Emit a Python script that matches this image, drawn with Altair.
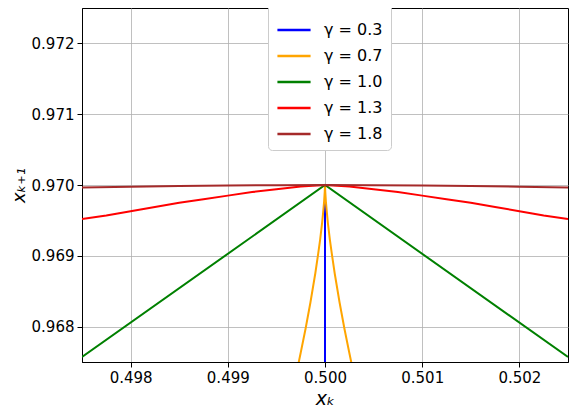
import altair as alt
import pandas as pd

labels = ["γ = 0.3", "γ = 0.7", "γ = 1.0", "γ = 1.3", "γ = 1.8"]
colors = ["#0000ff", "#ffa500", "#008000", "#ff0000", "#a52a2a"]

x_ticks = [0.498, 0.499, 0.500, 0.501, 0.502]
y_ticks = [0.968, 0.969, 0.970, 0.971, 0.972]

blue_x = [0.5, 0.5]
blue_y = [0.9670, 0.96977]

orange_x = [0.4997, 0.49975, 0.4998, 0.49985, 0.4999, 0.49993, 0.49995, 0.49997,
            0.49998, 0.49999, 0.499998, 0.5,
            0.500002, 0.50001, 0.50002, 0.50003, 0.50005, 0.50007, 0.5001,
            0.50015, 0.5002, 0.50025, 0.5003]
orange_y = [0.96730, 0.96763, 0.96797, 0.96834, 0.96875, 0.96903, 0.96923, 0.96946,
            0.96960, 0.96975, 0.96992, 0.97000,
            0.96992, 0.96975, 0.96960, 0.96946, 0.96923, 0.96903, 0.96875,
            0.96834, 0.96797, 0.96763, 0.96730]

green_x = [0.4975, 0.5, 0.5025]
green_y = [0.96757, 0.97000, 0.96757]

red_x = [0.4975, 0.49775, 0.498, 0.49825, 0.4985, 0.49875, 0.499, 0.49925, 0.4995,
         0.49975, 0.5, 0.50025, 0.5005, 0.50075, 0.501, 0.50125, 0.5015, 0.50175,
         0.502, 0.50225, 0.5025]
red_y = [0.96952, 0.96957, 0.96963, 0.96969, 0.96975, 0.96980, 0.96985, 0.96990,
         0.96994, 0.96998, 0.97000, 0.96998, 0.96994, 0.96990, 0.96985, 0.96980,
         0.96975, 0.96969, 0.96963, 0.96957, 0.96952]

brown_x = [0.4975, 0.498, 0.4985, 0.499, 0.4995, 0.5, 0.5005, 0.501, 0.5015, 0.502, 0.5025]
brown_y = [0.969965, 0.969977, 0.969986, 0.969993, 0.969998, 0.97,
           0.969998, 0.969993, 0.969986, 0.969977, 0.969965]

series = [(blue_x, blue_y), (orange_x, orange_y), (green_x, green_y),
          (red_x, red_y), (brown_x, brown_y)]

xscale = alt.Scale(domain=[0.4975, 0.5025], nice=False, zero=False)
yscale = alt.Scale(domain=[0.9675, 0.9725], nice=False, zero=False)
cscale = alt.Scale(domain=labels, range=colors)

xaxis = alt.Axis(values=x_ticks, format=".3f", title="xₖ", titleFontStyle="italic",
                 titleFontSize=19, titleFontWeight="normal", titlePadding=4)
yaxis = alt.Axis(values=y_ticks, format=".3f", title="xₖ₊₁", titleFontStyle="italic",
                 titleFontSize=18, titleFontWeight="normal", titlePadding=3)

layers = []
for (xs, ys), lab in zip(series, labels):
    df = pd.DataFrame({"x": xs, "y": ys, "series": lab, "i": list(range(len(xs)))})
    layers.append(
        alt.Chart(df).mark_line(clip=True, strokeWidth=2).encode(
            x=alt.X("x:Q", scale=xscale, axis=xaxis),
            y=alt.Y("y:Q", scale=yscale, axis=yaxis),
            color=alt.Color("series:N", scale=cscale, legend=alt.Legend(
                title=None, orient="none", legendX=186, legendY=-4,
                symbolType="stroke", symbolSize=1100, symbolStrokeWidth=2.5,
                labelFontSize=16, labelFont="DejaVu Sans", labelOffset=12,
                rowPadding=0, padding=8, fillColor="white",
                strokeColor="#cccccc", cornerRadius=4)),
            order="i:Q",
        )
    )

chart = alt.layer(*layers).properties(
    width=486, height=354,
    autosize=alt.AutoSizeParams(type="none"),
    padding={"left": 74, "top": 0, "right": 2, "bottom": 48},
).configure_axis(
    labelFont="DejaVu Sans", titleFont="DejaVu Sans", labelFontSize=15,
    labelColor="black", titleColor="black", domainColor="black", tickColor="black",
    tickSize=5, labelPadding=3, gridColor="#b0b0b0", gridWidth=0.8,
).configure_view(stroke="black", strokeWidth=1)

chart.save("out.html", embed_options={"renderer": "svg", "actions": False})
